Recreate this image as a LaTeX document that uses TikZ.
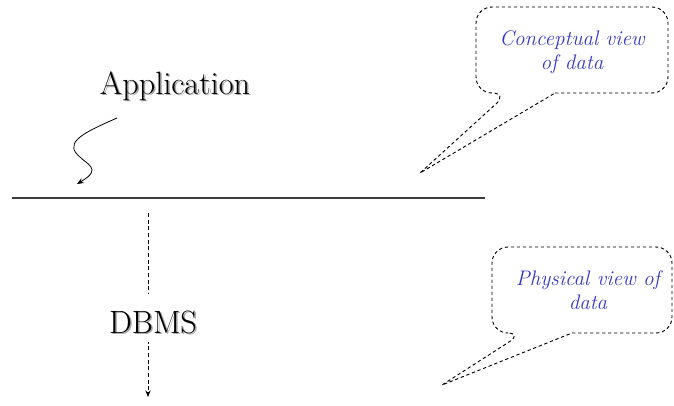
\documentclass[tikz,border=0pt]{standalone}
\usetikzlibrary{arrows.meta}
\definecolor{calloutblue}{RGB}{55,55,205}
\definecolor{linegray}{RGB}{60,60,60}
\begin{document}
\begin{tikzpicture}[x=0.75pt,y=-0.75pt,
  bigtext/.style={font=\fontsize{24.2}{28}\selectfont, inner sep=0pt},
  shadowtext/.style={bigtext, text=black!35},
  callouttext/.style={font=\fontsize{15.8}{17.6}\selectfont\itshape, text=calloutblue, align=center, inner sep=0pt},
  callout/.style={draw=black, dash pattern=on 2.5pt off 2pt, line width=0.7pt},
  flowarrow/.style={draw=black, line width=0.6pt, -{Stealth[length=5pt,width=4pt]}}
]
\useasboundingbox (0,0) rectangle (674,405);

% Application
\node[shadowtext] at (176.5,87.5) {Application};
\node[bigtext] (app) at (175,86) {Application};

% curvy arrow
\coordinate (cs) at (117,118);
\coordinate (ce) at (77,184);
\draw[flowarrow] (cs) .. controls (90,130) and (66,140) .. (76,153)
  .. controls (86,165) and (104,168) .. (ce);

% horizontal line
\coordinate (hl) at (12,198);
\coordinate (hr) at (485,198);
\draw[linegray, line width=0.8pt] (hl) -- (hr);

% dashed vertical arrow through DBMS
\coordinate (vt) at (148,213);
\coordinate (vb) at (148,397);
\draw[flowarrow, dash pattern=on 3pt off 2pt] (vt) -- (vb);
\fill[white] (100,294) rectangle (205,342);
\node[shadowtext] at (154.5,323.5) {DBMS};
\node[bigtext] (dbms) at (153,322) {DBMS};

% callout 1
\draw[callout] (555,93) [rounded corners=12pt] -- (668,93) -- (668,7) -- (476,7) -- (476,93) -- (508,93)
  [sharp corners] -- (420,173) -- (555,93);
\node[callouttext] (c1) at (572,52) {Conceptual view\\of data};

% callout 2
\draw[callout] (572,333) [rounded corners=12pt] -- (672,333) -- (672,247) -- (492,247) -- (492,333) -- (523,333)
  [sharp corners] -- (442,385) -- (572,333);
\node[callouttext] (c2) at (588,290) {Physical view of\\data};
\end{tikzpicture}
\end{document}
